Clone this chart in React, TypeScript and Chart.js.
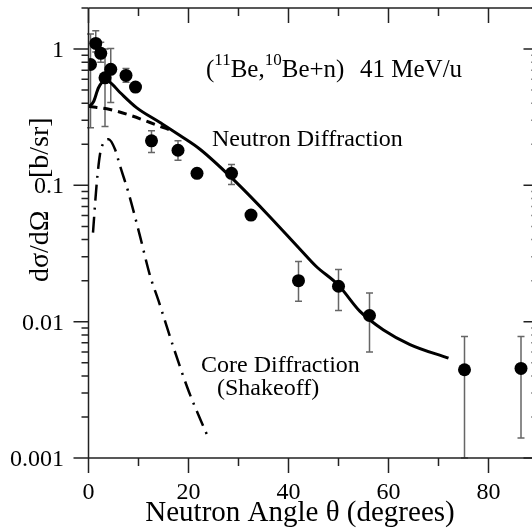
import React, { useEffect, useRef } from "react";
import { Chart, registerables } from "chart.js";
Chart.register(...registerables);

// Measured cross sections (dσ/dΩ, b/sr) vs neutron angle (degrees)
const angleData = [0.4, 1.45, 2.45, 3.3, 4.45, 7.5, 9.4, 12.6, 17.9, 21.7, 28.6, 32.5, 42.0, 50.0, 56.2, 75.2, 86.5];
const sigmaData = [0.77, 1.1, 0.93, 0.615, 0.71, 0.64, 0.526, 0.212, 0.181, 0.1225, 0.1225, 0.0605, 0.02, 0.0182, 0.0111, 0.00444, 0.00454];
const errHigh = [1.29, 1.36, 1.12, 1.0, 1.01, 0.72, null, 0.251, 0.212, null, 0.1425, null, 0.0276, 0.0241, 0.01625, 0.0078, 0.00778];
const errLow = [0.265, 0.95, 0.8, 0.27, 0.405, 0.57, null, 0.174, 0.153, null, 0.1016, null, 0.0141, 0.0121, 0.006, 0.001, 0.0014];

// Neutron diffraction (solid)
const neutronX = [0, 1, 2, 3.3, 4.0, 6.3, 9.6, 14.3, 18.3, 22.3, 28.9, 35.5, 42.3, 45.5, 50, 54.3, 59, 64.3, 72];
const neutronY = [0.377, 0.41, 0.52, 0.585, 0.58, 0.48, 0.372, 0.289, 0.232, 0.184, 0.111, 0.063, 0.034, 0.0255, 0.0185, 0.0119, 0.0087, 0.0068, 0.0054];

// Dashed component
const dashedX = [0, 4.3, 8.3, 12.3, 15.0, 17.0];
const dashedY = [0.38, 0.36, 0.327, 0.289, 0.265, 0.25];

// Core diffraction (shakeoff), dash-dot
const coreX = [0.9, 1.6, 2.3, 3.0, 4.0, 5.3, 6.3, 8.0, 10.3, 12.3, 14.0, 17.0, 20.1, 23.8];
const coreY = [0.045, 0.099, 0.169, 0.205, 0.218, 0.184, 0.139, 0.0883, 0.0424, 0.0218, 0.01425, 0.00647, 0.00305, 0.00145];

// Axis ticks
const xMajorTicks = [0, 20, 40, 60, 80];
const xTickLabels = ["0", "20", "40", "60", "80"];
const xMinorTicks = [10, 30, 50, 70, 90];
const yMajorTicks = [0.001, 0.01, 0.1, 1];
const yTickLabels = ["0.001", "0.01", "0.1", "1"];

const FONT = '"Liberation Serif", "Times New Roman", serif';

const pts = (xs: number[], ys: number[]) => xs.map((x, i) => ({ x, y: ys[i] }));

export default function App() {
  const ref = useRef<HTMLCanvasElement>(null);

  useEffect(() => {
    const canvas = ref.current!;

    const decorPlugin = {
      id: "decor",
      beforeDatasetsDraw(chart: any) {
        const { ctx, scales } = chart;
        const xs = scales.x, ys = scales.y;
        ctx.save();
        ctx.strokeStyle = "#666";
        ctx.lineWidth = 1.5;
        for (let i = 0; i < angleData.length; i++) {
          const hi = errHigh[i], lo = errLow[i];
          if (hi == null || lo == null) continue;
          const px = xs.getPixelForValue(angleData[i]);
          const y1 = ys.getPixelForValue(hi);
          const y2 = ys.getPixelForValue(lo);
          ctx.beginPath();
          ctx.moveTo(px, y1);
          ctx.lineTo(px, y2);
          ctx.moveTo(px - 3.5, y1);
          ctx.lineTo(px + 3.5, y1);
          ctx.moveTo(px - 3.5, y2);
          ctx.lineTo(px + 3.5, y2);
          ctx.stroke();
        }
        ctx.restore();
      },
      afterDraw(chart: any) {
        const { ctx, scales, chartArea } = chart;
        const xs = scales.x, ys = scales.y;
        const L = chartArea.left, R = chartArea.right, T = chartArea.top, B = chartArea.bottom;
        ctx.save();
        // frame
        ctx.strokeStyle = "#222";
        ctx.lineWidth = 1.5;
        ctx.beginPath();
        ctx.moveTo(L, T); ctx.lineTo(R, T);
        ctx.moveTo(L, B); ctx.lineTo(R, B);
        ctx.moveTo(L, T); ctx.lineTo(L, B);
        ctx.moveTo(R, T); ctx.lineTo(R, B);
        ctx.stroke();
        // x ticks
        ctx.beginPath();
        xMajorTicks.forEach((v) => {
          const p = xs.getPixelForValue(v);
          ctx.moveTo(p, B); ctx.lineTo(p, B + 15);
          ctx.moveTo(p, T); ctx.lineTo(p, T + 15);
        });
        xMinorTicks.forEach((v) => {
          const p = xs.getPixelForValue(v);
          ctx.moveTo(p, B); ctx.lineTo(p, B + 8);
          ctx.moveTo(p, T); ctx.lineTo(p, T + 8);
        });
        // y ticks
        yMajorTicks.forEach((v) => {
          const p = ys.getPixelForValue(v);
          ctx.moveTo(L - 15, p); ctx.lineTo(L, p);
          ctx.moveTo(R - 15, p); ctx.lineTo(R, p);
        });
        for (const d of [0.001, 0.01, 0.1, 1]) {
          for (let m = 2; m <= 9; m++) {
            const v = d * m;
            if (v > ys.max) continue;
            const p = ys.getPixelForValue(v);
            ctx.moveTo(L - 7, p); ctx.lineTo(L, p);
            ctx.moveTo(R - 7, p); ctx.lineTo(R, p);
          }
        }
        ctx.stroke();

        ctx.fillStyle = "#000";
        // tick labels
        ctx.font = `24px ${FONT}`;
        ctx.textBaseline = "alphabetic";
        ctx.textAlign = "center";
        xMajorTicks.forEach((v, i) => {
          ctx.fillText(xTickLabels[i], xs.getPixelForValue(v), 499);
        });
        ctx.textAlign = "right";
        yMajorTicks.forEach((v, i) => {
          ctx.fillText(yTickLabels[i], 64, ys.getPixelForValue(v) + 8);
        });

        // x title
        ctx.font = `29px ${FONT}`;
        ctx.textAlign = "center";
        ctx.fillText("Neutron Angle \u03b8 (degrees)", 300, 521);

        // y title (rotated)
        ctx.textAlign = "left";
        ctx.font = `28px ${FONT}`;
        ctx.save();
        ctx.translate(48, 282);
        ctx.rotate(-Math.PI / 2);
        ctx.fillText("d\u03c3/d\u03a9", 0, 0);
        ctx.restore();
        ctx.save();
        ctx.translate(48, 178);
        ctx.rotate(-Math.PI / 2);
        ctx.fillText("[b/sr]", 0, 0);
        ctx.restore();

        // reaction label with superscripts
        const parts: [string, boolean][] = [["(", false], ["11", true], ["Be,", false], ["10", true], ["Be+n)", false]];
        let x = 206;
        for (const [t, sup] of parts) {
          ctx.font = sup ? `17px ${FONT}` : `25px ${FONT}`;
          ctx.fillText(t, x, sup ? 65 : 77);
          x += ctx.measureText(t).width;
        }
        ctx.font = `25px ${FONT}`;
        ctx.fillText("41 MeV/u", 360, 77);

        ctx.font = `24px ${FONT}`;
        ctx.fillText("Neutron Diffraction", 212, 146);
        ctx.fillText("Core Diffraction", 201, 372);
        ctx.fillText("(Shakeoff)", 217, 395);
        ctx.restore();
      },
    };

    const chart = new Chart(canvas, {
      type: "scatter",
      data: {
        datasets: [
          {
            label: "data",
            data: pts(angleData, sigmaData),
            showLine: false,
            pointRadius: 6.5,
            pointBackgroundColor: "#000",
            pointBorderColor: "#000",
            pointBorderWidth: 0,
          },
          {
            label: "Neutron Diffraction",
            data: pts(neutronX, neutronY),
            showLine: true,
            pointRadius: 0,
            borderColor: "#000",
            borderWidth: 3,
            cubicInterpolationMode: "monotone",
          },
          {
            label: "dashed",
            data: pts(dashedX, dashedY),
            showLine: true,
            pointRadius: 0,
            borderColor: "#000",
            borderWidth: 3,
            borderDash: [9, 6],
            cubicInterpolationMode: "monotone",
          },
          {
            label: "Core Diffraction",
            data: pts(coreX, coreY),
            showLine: true,
            pointRadius: 0,
            borderColor: "#000",
            borderWidth: 2.5,
            borderDash: [16, 7, 2, 7],
            cubicInterpolationMode: "monotone",
          },
        ],
      },
      options: {
        responsive: false,
        animation: false,
        devicePixelRatio: 1,
        layout: { padding: { left: 88.5, right: 6.5, top: 8, bottom: 74 } },
        plugins: { legend: { display: false }, tooltip: { enabled: false } },
        scales: {
          x: { type: "linear", min: 0, max: 90, display: false },
          y: { type: "logarithmic", min: 0.001, max: 2, display: false },
        },
      },
      plugins: [decorPlugin],
    } as any);
    return () => chart.destroy();
  }, []);

  return (
    <div style={{ position: "fixed", left: 0, top: 0, width: 532, height: 532, overflow: "hidden", background: "#fff" }}>
      <canvas ref={ref} width={545} height={532} style={{ display: "block", width: 545, height: 532 }} />
    </div>
  );
}
